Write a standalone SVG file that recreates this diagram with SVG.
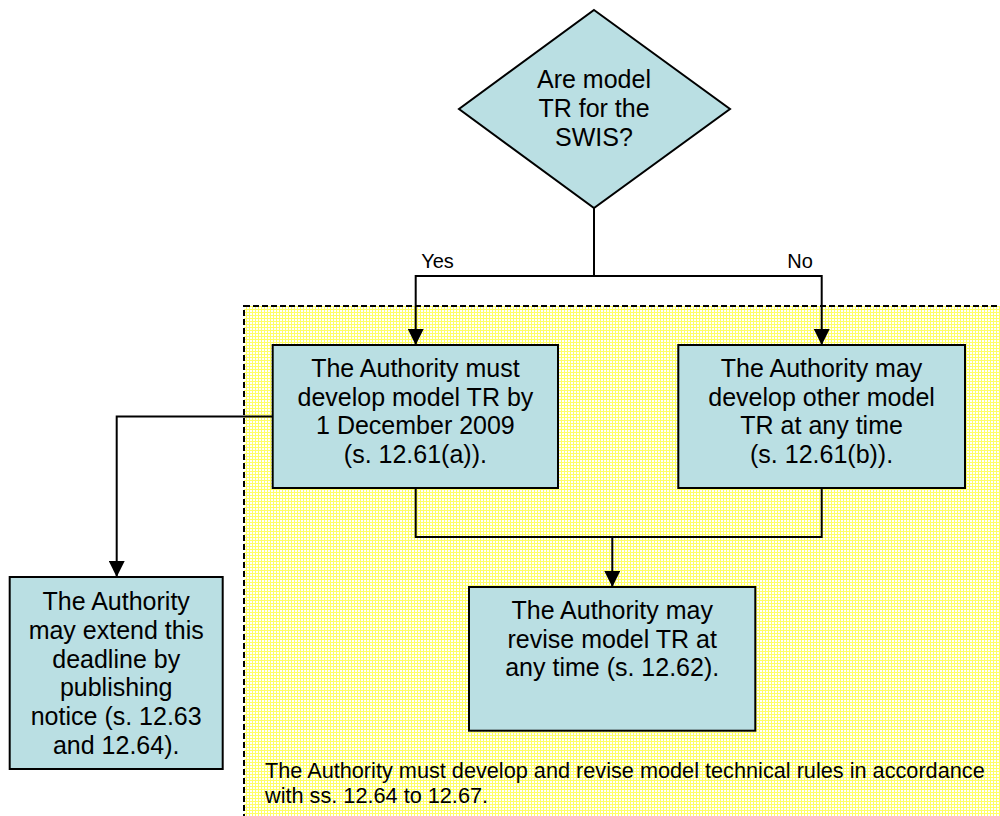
<svg xmlns="http://www.w3.org/2000/svg" width="1000" height="816" viewBox="0 0 1000 816">
  <style>
    .node { fill: #BADFE3; stroke: #000; stroke-width: 2; }
    .txt { font-family: "Liberation Sans", Arial, sans-serif; font-size: 25px; fill: #000; text-anchor: middle; }
    .lbl { font-family: "Liberation Sans", Arial, sans-serif; font-size: 20px; fill: #000; text-anchor: middle; }
    .note { font-family: "Liberation Sans", Arial, sans-serif; font-size: 21.7px; fill: #000; }
    .conn { fill: none; stroke: #000; stroke-width: 2; }
  </style>
  <defs>
    <pattern id="grid" width="3" height="3" patternUnits="userSpaceOnUse">
      <rect width="3" height="3" fill="#FFFFFF"/>
      <rect width="3" height="1" fill="#FFFF66"/>
      <rect width="1" height="3" fill="#FFFF66"/>
    </pattern>
    <marker id="arrow" markerUnits="userSpaceOnUse" markerWidth="16" markerHeight="16" refX="16" refY="8" orient="auto">
      <path d="M0,0 L16,8 L0,16 z" fill="#000"/>
    </marker>
  </defs>
  <rect width="1000" height="816" fill="#FFFFFF"/>

  <g id="region">
    <rect x="244" y="306" width="780" height="530" fill="url(#grid)" stroke="#000" stroke-width="2" stroke-dasharray="6,3"/>
    <text class="note" x="265" y="778">The Authority must develop and revise model technical rules in accordance</text>
    <text class="note" x="265" y="803">with ss. 12.64 to 12.67.</text>
  </g>

  <g id="connectors">
    <polyline class="conn" points="594,208 594,276"/>
    <polyline class="conn" points="594,276 415.7,276 415.7,345" marker-end="url(#arrow)"/>
    <polyline class="conn" points="594,276 821.7,276 821.7,345" marker-end="url(#arrow)"/>
    <polyline class="conn" points="272.7,416.5 116.7,416.5 116.7,577" marker-end="url(#arrow)"/>
    <polyline class="conn" points="415.7,488 415.7,537 821.7,537 821.7,488"/>
    <polyline class="conn" points="612.3,537 612.3,587" marker-end="url(#arrow)"/>
    <text class="lbl" x="437.5" y="268">Yes</text>
    <text class="lbl" x="800" y="268">No</text>
  </g>

  <g id="decision">
    <polygon class="node" points="594,10 730,109 594,208 459,109"/>
    <text class="txt" x="594" y="88">Are model</text>
    <text class="txt" x="594" y="117">TR for the</text>
    <text class="txt" x="594" y="146">SWIS?</text>
  </g>

  <g id="must-develop">
    <rect class="node" x="272.7" y="345" width="285.3" height="143"/>
    <text class="txt" x="415.4" y="377">The Authority must</text>
    <text class="txt" x="415.4" y="405.7">develop model TR by</text>
    <text class="txt" x="415.4" y="434.4">1 December 2009</text>
    <text class="txt" x="415.4" y="463">(s. 12.61(a)).</text>
  </g>

  <g id="may-develop">
    <rect class="node" x="678.3" y="345" width="286.7" height="143"/>
    <text class="txt" x="821.6" y="377">The Authority may</text>
    <text class="txt" x="821.6" y="405.7">develop other model</text>
    <text class="txt" x="821.6" y="434.4">TR at any time</text>
    <text class="txt" x="821.6" y="463">(s. 12.61(b)).</text>
  </g>

  <g id="extend">
    <rect class="node" x="9.7" y="577" width="213" height="192"/>
    <text class="txt" x="116.2" y="610">The Authority</text>
    <text class="txt" x="116.2" y="638.8">may extend this</text>
    <text class="txt" x="116.2" y="667.6">deadline by</text>
    <text class="txt" x="116.2" y="696.4">publishing</text>
    <text class="txt" x="116.2" y="725.2">notice (s. 12.63</text>
    <text class="txt" x="116.2" y="754">and 12.64).</text>
  </g>

  <g id="revise">
    <rect class="node" x="469" y="587" width="286.3" height="143.7"/>
    <text class="txt" x="612.2" y="619">The Authority may</text>
    <text class="txt" x="612.2" y="647.7">revise model TR at</text>
    <text class="txt" x="612.2" y="676.4">any time (s. 12.62).</text>
  </g>
</svg>
